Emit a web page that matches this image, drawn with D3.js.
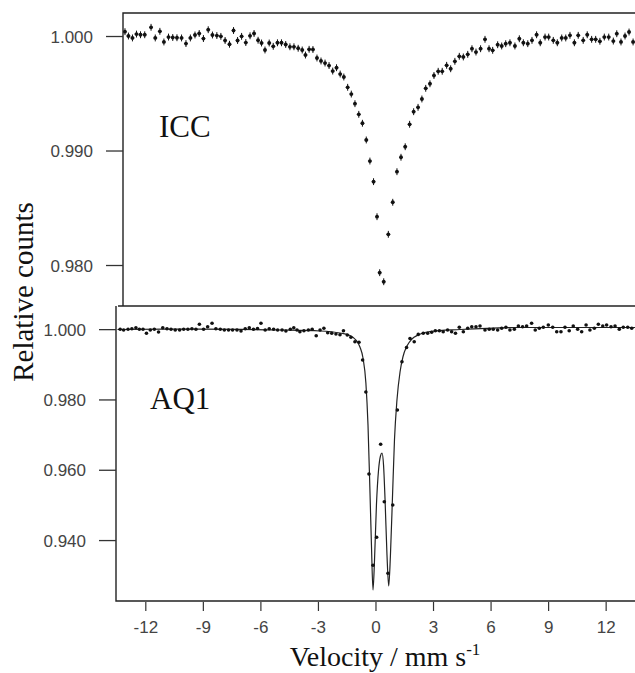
<html lang="en">
<head>
<meta charset="utf-8">
<style>
body { margin: 0; background: #fff; }
.tick text { font-family: "Liberation Sans", Arial, sans-serif; font-size: 17px; fill: #444; }
.serif { font-family: "Liberation Serif", "Times New Roman", serif; fill: #111; }
</style>
</head>
<body>
<script src="https://d3js.org/d3.v7.min.js"></script>
<script>
    // ICC spectrum (points with error bars)
    var iccVelocity = [
        -13.06,-12.88,-12.67,-12.46,-12.25,-12.03,-11.70,-11.48,-11.24,-11.03,
        -10.79,-10.57,-10.35,-10.11,-9.88,-9.65,-9.41,-9.19,-8.97,-8.72,
        -8.50,-8.27,-8.06,-7.84,-7.61,-7.40,-7.19,-6.98,-6.76,-6.54,
        -6.33,-6.12,-5.94,-5.76,-5.54,-5.33,-5.11,-4.90,-4.68,-4.46,
        -4.25,-4.03,-3.82,-3.65,-3.46,-3.26,-3.05,-2.84,-2.63,-2.42,
        -2.23,-2.03,-1.84,-1.65,-1.45,-1.26,-1.07,-0.87,-0.68,-0.48,
        -0.29,-0.10,0.08,0.22,0.43,0.67,0.90,1.12,1.33,1.55,
        1.78,1.99,2.22,2.42,2.62,2.84,3.05,3.27,3.48,3.71,
        3.92,4.14,4.37,4.58,4.81,5.03,5.24,5.48,5.71,5.92,
        6.11,6.37,6.58,6.79,7.01,7.27,7.50,7.71,7.94,8.16,
        8.40,8.59,8.84,9.03,9.27,9.48,9.71,9.92,10.14,10.37,
        10.57,10.83,11.04,11.27,11.48,11.70,11.93,12.16,12.40,12.58,
        12.80,13.01,13.22,13.43];
    var iccCounts = [
        1.00038,1.00000,0.99983,1.00017,1.00011,1.00011,1.00076,0.99983,1.00041,0.99948,
        0.99991,0.99987,0.99985,0.99983,0.99934,0.99983,1.00009,1.00022,0.99978,1.00055,
        1.00009,1.00004,0.99997,0.99961,0.99928,1.00048,0.99961,0.99997,0.99943,1.00002,
        1.00022,0.99963,0.99939,0.99878,0.99939,0.99910,0.99941,0.99941,0.99926,0.99906,
        0.99906,0.99893,0.99878,0.99834,0.99884,0.99882,0.99808,0.99782,0.99764,0.99742,
        0.99694,0.99723,0.99668,0.99642,0.99552,0.99493,0.99409,0.99316,0.99238,0.99092,
        0.98908,0.98728,0.98422,0.97933,0.97854,0.98268,0.98548,0.98815,0.98941,0.99033,
        0.99229,0.99339,0.99377,0.99450,0.99543,0.99583,0.99655,0.99692,0.99692,0.99744,
        0.99714,0.99779,0.99823,0.99817,0.99840,0.99889,0.99860,0.99889,0.99971,0.99889,
        0.99875,0.99924,0.99913,0.99933,0.99941,0.99913,0.99976,0.99941,0.99933,0.99962,
        1.00011,0.99941,0.99991,0.99991,0.99962,0.99941,0.99983,0.99983,1.00006,0.99941,
        1.00006,0.99962,1.00011,0.99971,0.99971,0.99954,0.99991,0.99991,0.99956,1.00020,
        0.99948,1.00000,1.00035,0.99948];
    var iccError = 0.0003;

    // AQ1 spectrum (points) and its fitted doublet
    var aq1Velocity = [
        -13.31,-13.13,-12.90,-12.70,-12.49,-12.31,-12.12,-11.94,-11.74,-11.53,
        -11.31,-11.09,-10.87,-10.66,-10.44,-10.21,-10.00,-9.78,-9.57,-9.36,
        -9.18,-8.96,-8.75,-8.52,-8.32,-8.09,-7.88,-7.66,-7.45,-7.22,
        -7.01,-6.79,-6.58,-6.36,-6.15,-5.97,-5.75,-5.54,-5.31,-5.10,
        -4.87,-4.67,-4.44,-4.26,-4.09,-3.94,-3.73,-3.50,-3.30,-3.09,
        -2.89,-2.69,-2.49,-2.28,-2.06,-1.85,-1.67,-1.47,-1.28,-1.07,
        -0.86,-0.67,-0.50,-0.34,-0.13,0.06,0.27,0.46,0.65,0.90,
        1.14,1.38,1.62,1.80,2.02,2.23,2.49,2.72,2.93,3.12,
        3.33,3.53,3.76,3.97,4.17,4.37,4.58,4.81,5.02,5.24,
        5.45,5.71,5.93,6.14,6.37,6.58,6.80,7.01,7.24,7.45,
        7.67,7.88,8.14,8.33,8.54,8.75,9.01,9.24,9.45,9.67,
        9.88,10.10,10.31,10.54,10.75,10.98,11.18,11.41,11.62,11.85,
        12.05,12.28,12.49,12.71,12.92,13.15,13.36];
    var aq1Counts = [
        0.99995,0.99975,0.99995,1.00012,1.00041,0.99995,0.99995,0.99881,0.99975,0.99995,
        0.99918,1.00041,1.00012,0.99995,0.99975,0.99975,0.99995,0.99995,1.00012,0.99995,
        1.00138,0.99995,1.00069,1.00166,1.00012,0.99995,0.99975,0.99975,0.99975,0.99975,
        0.99947,1.00012,1.00041,0.99995,1.00018,1.00166,0.99975,1.00012,0.99995,0.99975,
        0.99975,0.99947,0.99995,1.00041,0.99975,0.99927,0.99956,0.99975,0.99995,0.99813,
        0.99975,1.00024,0.99899,0.99882,0.99862,0.99842,0.99956,0.99833,0.99768,0.99643,
        0.99626,0.99122,0.98212,0.95879,0.93282,0.94079,0.96724,0.95091,0.93055,0.94997,
        0.97700,0.99074,0.99478,0.99734,0.99643,0.99850,0.99882,0.99882,0.99910,0.99956,
        0.99956,0.99927,0.99975,0.99927,0.99882,1.00052,0.99927,1.00024,1.00069,1.00069,
        1.00089,0.99975,0.99995,0.99995,0.99975,1.00024,1.00052,0.99975,0.99995,1.00089,
        1.00069,1.00089,1.00166,0.99975,1.00024,1.00052,1.00118,1.00052,0.99927,0.99927,
        1.00052,0.99956,1.00089,0.99995,0.99927,1.00118,0.99975,1.00024,1.00138,1.00089,
        1.00118,1.00069,1.00089,0.99995,1.00052,1.00052,1.00024];
    var aq1FitVelocity = [-13.45,-9.15,-4.98,-2.89,-1.85,-1.33,-1.02,-0.81,-0.65,-0.50,
        -0.39,-0.29,-0.21,-0.13,-0.05,0.05,0.16,0.26,0.34,0.42,
        0.50,0.60,0.69,0.78,0.89,0.99,1.12,1.28,1.43,1.64,
        1.90,2.22,2.84,4.41,7.53,10.66,13.53];
    var aq1FitCounts = [0.99990,1.00000,0.99975,0.99947,0.99890,0.99819,0.99691,0.99492,0.99179,0.98468,
        0.97273,0.95424,0.93860,0.92580,0.93433,0.94997,0.95993,0.96391,0.96477,0.96135,
        0.95140,0.93575,0.92693,0.93575,0.95282,0.96846,0.97984,0.98781,0.99207,0.99520,
        0.99719,0.99833,0.99933,0.99990,1.00047,1.00047,1.00047];

    var velocityTicks = [-12, -9, -6, -3, 0, 3, 6, 9, 12];
    var iccTicks = [0.980, 0.990, 1.000];
    var aq1Ticks = [0.940, 0.960, 0.980, 1.000];

    var width = 635, height = 673;
    var left = 116, right = 635, topY = 13, midY = 306, bottomY = 601;
    var iccLeft = 123;

    var svg = d3.select("body").append("svg")
        .attr("width", width)
        .attr("height", height);

    var x = d3.scaleLinear().domain([-13.58, 13.53]).range([115, 635]);
    var yTop = d3.scaleLinear().domain([0.97642, 1.00201]).range([midY, topY]);
    var yBot = d3.scaleLinear().domain([0.92267, 1.00658]).range([bottomY, midY]);

    // frames
    var frame = svg.append("g").attr("stroke", "#222").attr("stroke-width", 1.4).attr("fill", "none");
    frame.append("path").attr("d", "M" + right + "," + topY + "H" + iccLeft + "V" + midY);
    frame.append("path").attr("d", "M" + (left + 2) + "," + midY + "H" + right);
    frame.append("path").attr("d", "M" + left + "," + midY + "V" + bottomY + "H" + right);

    function leftAxis(scale, ticks, xpos) {
        var g = svg.append("g")
            .attr("transform", "translate(" + xpos + ",0)")
            .call(d3.axisLeft(scale).tickValues(ticks).tickFormat(d3.format(".3f"))
                .tickSize(17).tickSizeOuter(0).tickPadding(13));
        g.select(".domain").remove();
        g.selectAll(".tick line").attr("stroke", "#333").attr("stroke-width", 1.3);
        g.selectAll(".tick text").attr("dy", "0.36em");
    }
    leftAxis(yTop, iccTicks, iccLeft);
    leftAxis(yBot, aq1Ticks, left);

    var xg = svg.append("g")
        .attr("transform", "translate(0," + (bottomY + 1) + ")")
        .call(d3.axisBottom(x).tickValues(velocityTicks)
            .tickFormat(function (d) { return String(d); })
            .tickSize(9).tickPadding(10).tickSizeOuter(0));
    xg.select(".domain").remove();
    xg.selectAll(".tick line").attr("stroke", "#333").attr("stroke-width", 1.2);

    // ICC points with error bars
    var icc = iccVelocity.map(function (v, i) { return { v: v, c: iccCounts[i] }; });
    var ig = svg.append("g").attr("stroke", "#111");
    ig.selectAll("line.ev").data(icc).enter().append("line")
        .attr("x1", function (d) { return x(d.v); })
        .attr("x2", function (d) { return x(d.v); })
        .attr("y1", function (d) { return yTop(d.c + iccError); })
        .attr("y2", function (d) { return yTop(d.c - iccError); })
        .attr("stroke-width", 1);
    ig.selectAll("line.eh").data(icc).enter().append("line")
        .attr("x1", function (d) { return x(d.v) - 2; })
        .attr("x2", function (d) { return x(d.v) + 2; })
        .attr("y1", function (d) { return yTop(d.c); })
        .attr("y2", function (d) { return yTop(d.c); })
        .attr("stroke-width", 0.8)
        .attr("stroke", "#555");
    ig.selectAll("circle").data(icc).enter().append("circle")
        .attr("cx", function (d) { return x(d.v); })
        .attr("cy", function (d) { return yTop(d.c); })
        .attr("r", 1.9)
        .attr("stroke", "none")
        .attr("fill", "#111");

    // AQ1 fit line and points
    var fit = aq1FitVelocity.map(function (v, i) { return { v: v, c: aq1FitCounts[i] }; });
    var line = d3.line()
        .x(function (d) { return x(d.v); })
        .y(function (d) { return yBot(d.c); })
        .curve(d3.curveMonotoneX);
    svg.append("path").datum(fit)
        .attr("d", line)
        .attr("fill", "none")
        .attr("stroke", "#222")
        .attr("stroke-width", 1.2);

    var aq1 = aq1Velocity.map(function (v, i) { return { v: v, c: aq1Counts[i] }; });
    svg.append("g").selectAll("circle").data(aq1).enter().append("circle")
        .attr("cx", function (d) { return x(d.v); })
        .attr("cy", function (d) { return yBot(d.c); })
        .attr("r", 1.8)
        .attr("fill", "#111");

    // panel labels and titles
    svg.append("text").attr("class", "serif").attr("x", 159).attr("y", 137)
        .attr("font-size", 31).text("ICC");
    svg.append("text").attr("class", "serif").attr("x", 150).attr("y", 409)
        .attr("font-size", 31).text("AQ1");

    svg.append("text").attr("class", "serif")
        .attr("transform", "translate(33,292) rotate(-90)")
        .attr("text-anchor", "middle")
        .attr("font-size", 29)
        .text("Relative counts");

    var xt = svg.append("text").attr("class", "serif")
        .attr("x", 385).attr("y", 666)
        .attr("text-anchor", "middle")
        .attr("font-size", 28);
    xt.append("tspan").text("Velocity / mm s");
    xt.append("tspan").attr("font-size", 17).attr("dy", -11).text("-1");
</script>
</body>
</html>
